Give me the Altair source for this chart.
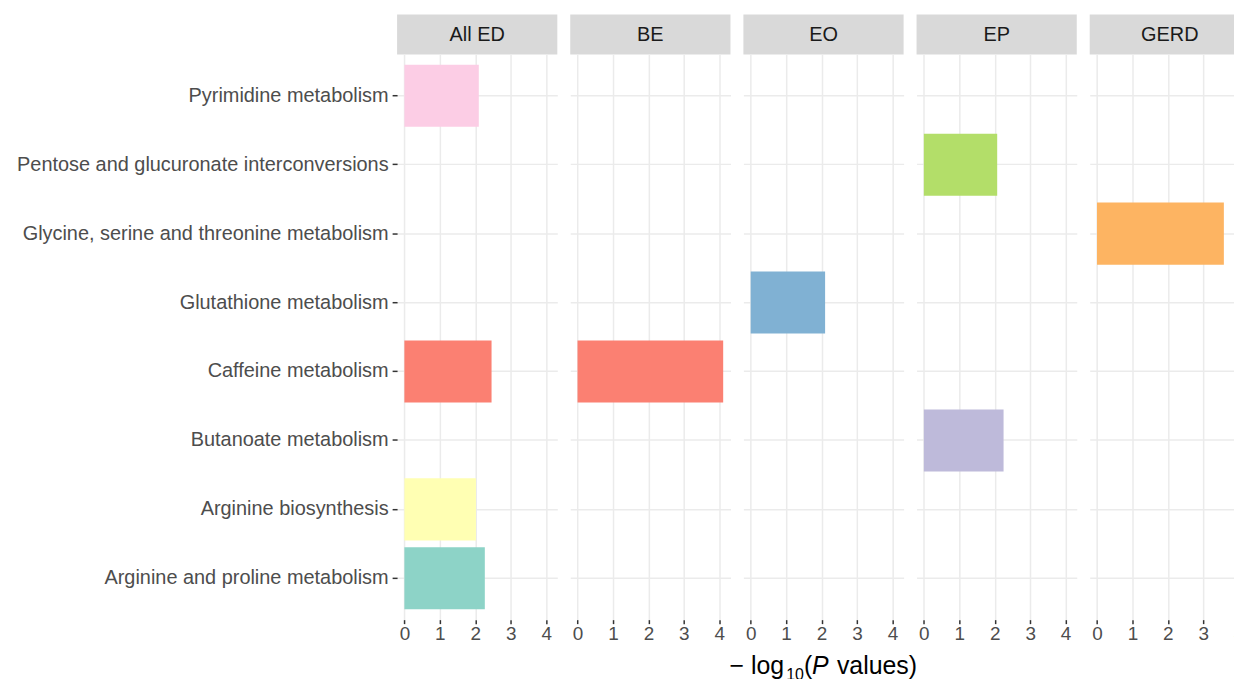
import altair as alt
import pandas as pd

pathways = [
    "Pyrimidine metabolism",
    "Pentose and glucuronate interconversions",
    "Glycine, serine and threonine metabolism",
    "Glutathione metabolism",
    "Caffeine metabolism",
    "Butanoate metabolism",
    "Arginine biosynthesis",
    "Arginine and proline metabolism",
]
pathway_colors = ["#FCCDE5", "#B3DE69", "#FDB462", "#80B1D3",
                  "#FB8072", "#BEBADA", "#FFFFB3", "#8DD3C7"]
panels = ["All ED", "BE", "EO", "EP", "GERD"]

bar_panel = ["All ED", "All ED", "All ED", "All ED", "BE", "EO", "EP", "EP", "GERD"]
bar_pathway = ["Pyrimidine metabolism", "Caffeine metabolism", "Arginine biosynthesis",
               "Arginine and proline metabolism", "Caffeine metabolism",
               "Glutathione metabolism", "Pentose and glucuronate interconversions",
               "Butanoate metabolism", "Glycine, serine and threonine metabolism"]
bar_value = [2.10, 2.46, 2.02, 2.27, 4.11, 2.10, 2.07, 2.25, 3.58]

# axis title pieces: -log10(P values)
title_parts = ["\u2212\u00a0log", "10", "(", "P", "values)"]

df = pd.DataFrame({"panel": bar_panel, "pathway": bar_pathway, "value": bar_value})

W, H = 161, 568
vmax = max(bar_value)
xdom = [-0.05 * vmax, vmax * 1.05]
FONT = "Liberation Sans"
TFS, SFS = 25, 16

charts = []
for i, p in enumerate(panels):
    sub = df[df["panel"] == p]
    first = i == 0
    yaxis = alt.Axis(
        title=None, labels=first, ticks=first, domain=False, grid=True,
        gridColor="#EBEBEB", gridWidth=1.5, bandPosition=0.5,
        labelFontSize=20, labelColor="#4D4D4D", labelLimit=600, labelPadding=4,
        tickSize=5, tickColor="#333333", tickWidth=1.5,
    )
    xaxis = alt.Axis(
        title=None,
        values=[0, 1, 2, 3, 4], format="d", domain=False, grid=True,
        gridColor="#EBEBEB", gridWidth=1.5,
        labelFontSize=19, labelColor="#4D4D4D", labelPadding=1,
        tickSize=4, tickColor="#333333", tickWidth=1.5,
    )
    bars = alt.Chart(sub).mark_bar().encode(
        x=alt.X("value:Q", scale=alt.Scale(domain=xdom, nice=False, zero=False), axis=xaxis),
        y=alt.Y("pathway:N", scale=alt.Scale(domain=pathways, paddingInner=0.1, paddingOuter=0.15),
                axis=yaxis),
        color=alt.Color("pathway:N", scale=alt.Scale(domain=pathways, range=pathway_colors), legend=None),
    )
    strip_df = pd.DataFrame({"panel": [p]})
    strip = alt.Chart(strip_df).mark_rect(color="#D9D9D9").encode(
        x=alt.value(0), x2=alt.value(W), y=alt.value(-40), y2=alt.value(0)
    )
    strip_text = alt.Chart(strip_df).mark_text(
        fontSize=20, color="#1A1A1A", baseline="middle", align="center", font=FONT
    ).encode(x=alt.value(W / 2), y=alt.value(-19), text="panel:N")
    layers = [strip, strip_text, bars]
    if p == "EO":
        # x offsets (px from panel left) of each title piece
        offsets = [-14, 43, 61, 69, 94]
        styles = [(TFS, "normal", 0), (SFS, "normal", 6), (TFS, "normal", 0),
                  (TFS, "italic", 0), (TFS, "normal", 0)]
        for txt, xo, (fs, st, dy) in zip(title_parts, offsets, styles):
            tdf = pd.DataFrame({"t": [txt]})
            layers.append(
                alt.Chart(tdf).mark_text(
                    fontSize=fs, fontStyle=st, color="#000000", align="left",
                    baseline="alphabetic", font=FONT
                ).encode(x=alt.value(xo), y=alt.value(H + 55 + dy), text="t:N")
            )
    charts.append(alt.layer(*layers).properties(width=W, height=H))

chart = alt.hconcat(*charts, spacing=13, bounds="flush").configure(font=FONT).configure_view(
    stroke=None
).properties(padding={"left": 8, "top": 5, "right": -16, "bottom": -6})

chart.save("out.html", embed_options={"renderer": "svg", "actions": False})
